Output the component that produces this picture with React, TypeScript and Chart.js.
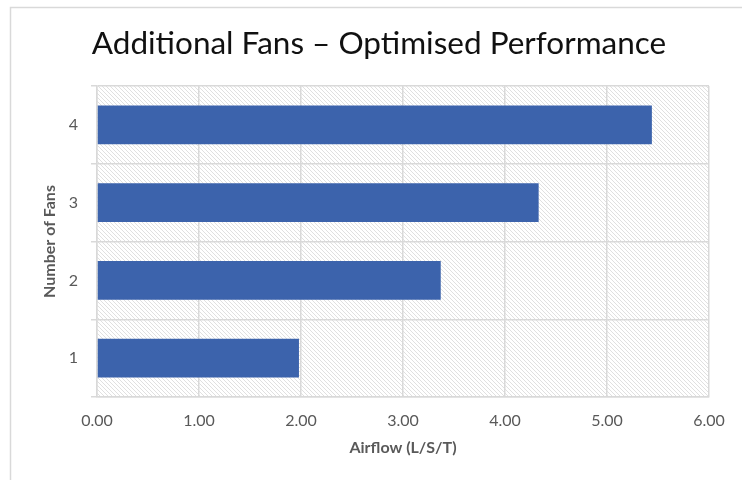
import React, { useEffect, useRef } from 'react';
import { Chart, registerables } from 'chart.js';

Chart.register(...registerables);

const titleText = 'Additional Fans – Optimised Performance';
const fanCounts = ['1', '2', '3', '4'];
const airflow = [1.98, 3.37, 4.33, 5.44];
const xMin = 0;
const xMax = 6;
const xStep = 1;
const xTitle = 'Airflow (L/S/T)';
const yTitle = 'Number of Fans';

const FONT = 'Lato, "Open Sans", sans-serif';
const GRID = '#d9d9d9';
const TEXT = '#595959';

const hatchPlugin = {
  id: 'hatchBg',
  beforeDraw(chart: any) {
    const { ctx, chartArea, width, height } = chart;
    ctx.save();
    ctx.fillStyle = '#ffffff';
    ctx.fillRect(0, 0, width, height);
    // outer chart border
    ctx.strokeStyle = GRID;
    ctx.lineWidth = 1.5;
    ctx.strokeRect(10.5, 7.5, width + 20, height + 20);
    // hatch pattern in plot area
    const tile = document.createElement('canvas');
    tile.width = 4;
    tile.height = 4;
    const t = tile.getContext('2d')!;
    t.strokeStyle = '#e0e0e0';
    t.lineWidth = 1;
    t.beginPath();
    t.moveTo(-1, -1);
    t.lineTo(5, 5);
    t.moveTo(-1, 3);
    t.lineTo(1, 5);
    t.moveTo(3, -1);
    t.lineTo(5, 1);
    t.stroke();
    const pat = ctx.createPattern(tile, 'repeat');
    if (pat) {
      ctx.fillStyle = pat;
      ctx.fillRect(chartArea.left, chartArea.top, chartArea.right - chartArea.left, chartArea.bottom - chartArea.top);
    }
    ctx.restore();
  },
  afterDraw(chart: any) {
    const { ctx } = chart;
    ctx.save();
    ctx.fillStyle = '#111111';
    ctx.font = `31.5px ${FONT}`;
    ctx.textAlign = 'center';
    ctx.textBaseline = 'alphabetic';
    ctx.fillText(titleText, 379, 54);
    ctx.restore();
  },
};

export default function App() {
  const ref = useRef<HTMLCanvasElement | null>(null);
  useEffect(() => {
    document.body.style.margin = '0';
    const canvas = ref.current;
    if (!canvas) return;
    const chart = new Chart(canvas, {
      type: 'bar',
      data: {
        labels: fanCounts,
        datasets: [
          {
            data: airflow,
            backgroundColor: '#3C63AC',
            borderWidth: 0,
            barPercentage: 0.5,
            categoryPercentage: 1,
          },
        ],
      },
      options: {
        indexAxis: 'y',
        animation: false,
        responsive: false,
        maintainAspectRatio: false,
        layout: { padding: { left: 0, top: 86, right: 33, bottom: 0 } },
        plugins: {
          legend: { display: false },
          tooltip: { enabled: false },
          title: { display: false },
        },
        scales: {
          x: {
            type: 'linear',
            min: xMin,
            max: xMax,
            ticks: {
              stepSize: xStep,
              color: TEXT,
              font: { family: FONT, size: 16 },
              padding: 14,
              callback: (v: any) => Number(v).toFixed(2),
            },
            grid: { color: GRID, lineWidth: 1.5, drawTicks: false },
            border: { color: GRID, width: 1.5 },
            title: {
              display: true,
              text: xTitle,
              color: TEXT,
              font: { family: FONT, size: 16, weight: 'bold', lineHeight: 1.2 },
              padding: { top: 0, bottom: 23 },
            },
            afterFit: (s: any) => {
              s.height = 83;
            },
          },
          y: {
            reverse: true,
            ticks: {
              color: TEXT,
              font: { family: FONT, size: 16 },
              padding: 13,
            },
            grid: { color: GRID, lineWidth: 1.5, offset: true, tickLength: 6 },
            border: { color: GRID, width: 1.5 },
            title: {
              display: true,
              text: yTitle,
              color: TEXT,
              font: { family: FONT, size: 16, weight: 'bold', lineHeight: 1.2 },
              padding: { top: 40, bottom: 0 },
            },
            afterFit: (s: any) => {
              s.width = 97;
            },
          },
        },
      },
      plugins: [hatchPlugin],
    });
    return () => chart.destroy();
  }, []);
  return <canvas ref={ref} width={742} height={480} style={{ display: 'block' }} />;
}
